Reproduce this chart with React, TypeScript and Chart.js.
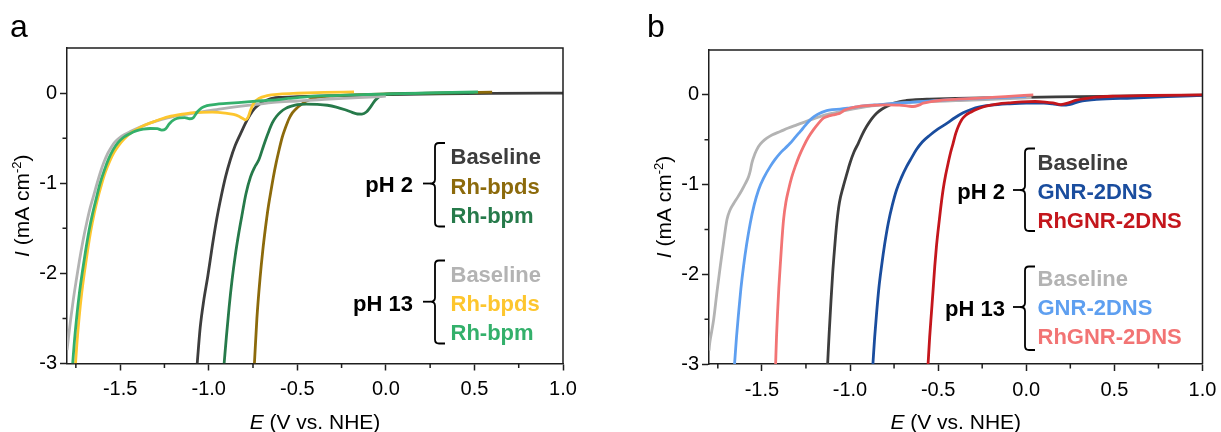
import React, { useEffect, useRef } from "react";
import { Chart, registerables } from "chart.js";

Chart.register(...registerables);

// ---------- axes ----------
const X_MIN = -1.8;
const X_MAX = 1.0;
const Y_MIN = -3;
const Y_MAX = 0.5;
const X_MINOR = [-1.75, -1.25, -0.75, -0.25, 0.25, 0.75];
const Y_MINOR = [-2.5, -1.5, -0.5];

// ---------- panel a data ----------
const aBase2E = [-1.065, -1.048, -1.028, -1.005, -0.98, -0.955, -0.93, -0.905, -0.878, -0.85, -0.82, -0.793, -0.768, -0.743, -0.715, -0.69, -0.66, -0.635, -0.6, -0.5, -0.3, 0, 0.3, 0.6, 1.0];
const aBase2I = [-3.0, -2.6, -2.3, -2.03, -1.7, -1.4, -1.15, -0.93, -0.74, -0.58, -0.45, -0.335, -0.245, -0.175, -0.125, -0.095, -0.068, -0.055, -0.048, -0.04, -0.03, -0.018, -0.008, -0.003, 0.0];

const aBpds2E = [-0.742, -0.728, -0.71, -0.695, -0.68, -0.665, -0.65, -0.635, -0.62, -0.604, -0.585, -0.566, -0.548, -0.528, -0.505, -0.481, -0.455, -0.425, -0.39, -0.35, -0.3, -0.2, 0, 0.3, 0.6];
const aBpds2I = [-3.0, -2.5, -2.05, -1.75, -1.5, -1.28, -1.1, -0.93, -0.78, -0.64, -0.49, -0.38, -0.29, -0.22, -0.17, -0.13, -0.095, -0.068, -0.048, -0.037, -0.03, -0.02, -0.01, 0.0, 0.01];

const aBpm2E = [-0.913, -0.9, -0.885, -0.868, -0.85, -0.83, -0.81, -0.79, -0.764, -0.74, -0.717, -0.698, -0.679, -0.66, -0.641, -0.618, -0.594, -0.565, -0.538, -0.5, -0.45, -0.387, -0.33, -0.28, -0.23, -0.19, -0.16, -0.135, -0.11, -0.085, -0.06, -0.035, -0.01, 0.1, 0.3, 0.5];
const aBpm2I = [-3.0, -2.7, -2.38, -2.07, -1.8, -1.55, -1.33, -1.12, -0.93, -0.82, -0.74, -0.63, -0.52, -0.42, -0.33, -0.26, -0.21, -0.17, -0.148, -0.128, -0.122, -0.125, -0.135, -0.155, -0.185, -0.215, -0.232, -0.233, -0.21, -0.15, -0.08, -0.035, -0.015, -0.005, 0.0, 0.005];

const aBase13E = [-1.8, -1.792, -1.78, -1.765, -1.748, -1.73, -1.71, -1.69, -1.67, -1.65, -1.63, -1.61, -1.59, -1.57, -1.55, -1.53, -1.505, -1.475, -1.44, -1.39, -1.335, -1.27, -1.2, -1.11, -1.024, -0.93, -0.829, -0.73, -0.634, -0.5, -0.381, -0.24, -0.088, 0.0];
const aBase13I = [-2.85, -2.72, -2.52, -2.3, -2.08, -1.86, -1.64, -1.45, -1.28, -1.14, -1.0, -0.87, -0.76, -0.67, -0.6, -0.545, -0.5, -0.46, -0.425, -0.38, -0.335, -0.295, -0.26, -0.23, -0.204, -0.175, -0.148, -0.125, -0.104, -0.088, -0.074, -0.058, -0.044, -0.035];

const aBpds13E = [-1.752, -1.743, -1.731, -1.717, -1.701, -1.684, -1.666, -1.647, -1.627, -1.606, -1.584, -1.56, -1.535, -1.508, -1.478, -1.445, -1.405, -1.36, -1.3, -1.23, -1.15, -1.063, -0.98, -0.907, -0.86, -0.83, -0.81, -0.792, -0.778, -0.764, -0.745, -0.717, -0.67, -0.6, -0.5, -0.35, -0.18];
const aBpds13I = [-3.0, -2.75, -2.48, -2.22, -1.98, -1.75, -1.53, -1.34, -1.17, -1.02, -0.88, -0.76, -0.66, -0.58, -0.51, -0.45, -0.4, -0.355, -0.31, -0.265, -0.235, -0.215, -0.212, -0.222, -0.237, -0.258, -0.28, -0.298, -0.27, -0.19, -0.11, -0.06, -0.028, -0.012, -0.002, 0.008, 0.013];

const aBpm13E = [-1.768, -1.758, -1.745, -1.73, -1.713, -1.695, -1.676, -1.656, -1.635, -1.613, -1.59, -1.565, -1.54, -1.512, -1.48, -1.445, -1.41, -1.37, -1.33, -1.29, -1.265, -1.245, -1.222, -1.195, -1.165, -1.135, -1.108, -1.088, -1.065, -1.04, -1.01, -0.96, -0.9, -0.8, -0.7, -0.62, -0.55, -0.45, -0.3, -0.1, 0.1, 0.3, 0.52];
const aBpm13I = [-3.0, -2.75, -2.48, -2.22, -1.98, -1.75, -1.53, -1.34, -1.17, -1.0, -0.86, -0.73, -0.63, -0.55, -0.49, -0.45, -0.42, -0.4, -0.393, -0.395, -0.41, -0.4, -0.34, -0.295, -0.275, -0.272, -0.285, -0.275, -0.21, -0.165, -0.14, -0.125, -0.115, -0.1, -0.085, -0.075, -0.06, -0.042, -0.028, -0.016, -0.006, 0.004, 0.012];

// ---------- panel b data ----------
const bBase2E = [-1.127, -1.118, -1.108, -1.098, -1.087, -1.075, -1.06, -1.038, -1.018, -1.0, -0.978, -0.953, -0.93, -0.906, -0.878, -0.849, -0.82, -0.792, -0.755, -0.717, -0.68, -0.642, -0.55, -0.4, -0.2, 0.0, 0.3, 0.6, 1.0];
const bBase2I = [-3.0, -2.65, -2.3, -1.98, -1.7, -1.43, -1.2, -1.02, -0.88, -0.76, -0.64, -0.54, -0.44, -0.353, -0.27, -0.204, -0.16, -0.13, -0.095, -0.074, -0.063, -0.056, -0.048, -0.04, -0.033, -0.027, -0.02, -0.012, -0.004];

const bGnr2E = [-0.87, -0.86, -0.849, -0.836, -0.821, -0.803, -0.783, -0.76, -0.736, -0.708, -0.679, -0.65, -0.623, -0.59, -0.547, -0.5, -0.453, -0.405, -0.358, -0.31, -0.264, -0.2, -0.1, 0.0, 0.1, 0.15, 0.2, 0.25, 0.3, 0.4, 0.6, 0.8, 1.0];
const bGnr2I = [-3.0, -2.7, -2.43, -2.15, -1.91, -1.66, -1.43, -1.23, -1.06, -0.92, -0.8, -0.7, -0.61, -0.525, -0.45, -0.38, -0.32, -0.255, -0.2, -0.16, -0.135, -0.115, -0.1, -0.092, -0.092, -0.1, -0.115, -0.105, -0.075, -0.05, -0.035, -0.02, -0.006];

const bRh2E = [-0.557, -0.548, -0.538, -0.528, -0.519, -0.51, -0.5, -0.486, -0.472, -0.458, -0.443, -0.429, -0.415, -0.4, -0.385, -0.367, -0.345, -0.312, -0.28, -0.245, -0.2, -0.157, -0.1, -0.025, 0.05, 0.107, 0.15, 0.196, 0.24, 0.284, 0.34, 0.394, 0.5, 0.7, 1.0];
const bRh2I = [-3.0, -2.7, -2.43, -2.16, -1.91, -1.7, -1.51, -1.27, -1.06, -0.9, -0.76, -0.64, -0.54, -0.43, -0.35, -0.28, -0.23, -0.19, -0.16, -0.135, -0.115, -0.1, -0.09, -0.078, -0.074, -0.08, -0.09, -0.108, -0.09, -0.058, -0.04, -0.026, -0.015, -0.007, 0.0];

const bBase13E = [-1.8, -1.796, -1.785, -1.774, -1.755, -1.736, -1.717, -1.698, -1.68, -1.66, -1.637, -1.613, -1.594, -1.575, -1.565, -1.557, -1.54, -1.519, -1.495, -1.472, -1.44, -1.396, -1.35, -1.302, -1.24, -1.17, -1.11, -1.057, -0.98, -0.906, -0.82, -0.736, -0.64, -0.547, -0.4, -0.264, -0.13, 0.03];
const bBase13I = [-2.85, -2.77, -2.64, -2.51, -2.2, -1.91, -1.64, -1.39, -1.28, -1.21, -1.14, -1.06, -0.99, -0.91, -0.84, -0.76, -0.66, -0.576, -0.52, -0.483, -0.445, -0.409, -0.37, -0.335, -0.29, -0.242, -0.21, -0.186, -0.155, -0.13, -0.11, -0.093, -0.082, -0.074, -0.065, -0.056, -0.045, -0.03];

const bGnr13E = [-1.655, -1.644, -1.632, -1.619, -1.604, -1.586, -1.566, -1.544, -1.519, -1.488, -1.453, -1.425, -1.396, -1.368, -1.34, -1.316, -1.292, -1.268, -1.245, -1.218, -1.189, -1.16, -1.132, -1.1, -1.057, -1.0, -0.925, -0.83, -0.736, -0.6, -0.453, -0.3, -0.15, 0.0];
const bGnr13I = [-3.0, -2.7, -2.43, -2.16, -1.91, -1.66, -1.43, -1.23, -1.06, -0.92, -0.8, -0.72, -0.65, -0.595, -0.54, -0.485, -0.43, -0.375, -0.32, -0.265, -0.223, -0.195, -0.175, -0.165, -0.16, -0.145, -0.123, -0.108, -0.093, -0.075, -0.056, -0.042, -0.03, -0.018];

const bRh13E = [-1.422, -1.417, -1.411, -1.404, -1.396, -1.387, -1.377, -1.364, -1.349, -1.331, -1.311, -1.288, -1.264, -1.237, -1.208, -1.18, -1.151, -1.12, -1.094, -1.075, -1.057, -1.03, -1.0, -0.96, -0.925, -0.86, -0.792, -0.72, -0.67, -0.642, -0.61, -0.585, -0.54, -0.491, -0.4, -0.264, -0.12, 0.04];
const bRh13I = [-3.0, -2.7, -2.43, -2.16, -1.91, -1.64, -1.39, -1.2, -1.06, -0.92, -0.8, -0.68, -0.576, -0.475, -0.39, -0.32, -0.26, -0.235, -0.223, -0.215, -0.204, -0.17, -0.149, -0.133, -0.123, -0.116, -0.112, -0.115, -0.125, -0.13, -0.115, -0.093, -0.075, -0.063, -0.05, -0.037, -0.02, 0.0];

// ---------- colours ----------
const C_DARKGRAY = "#3d3d3d";
const C_LIGHTGRAY = "#b3b3b3";
const C_BROWN = "#8c6a0b";
const C_YELLOW = "#fdc62e";
const C_DARKGREEN = "#267a4a";
const C_GREEN = "#33b06b";
const C_DARKBLUE = "#1a4d9e";
const C_LIGHTBLUE = "#5e9ff0";
const C_RED = "#c4161c";
const C_PINK = "#f27474";
const C_AXIS = "#1e1e1e";

const FONT = '"Liberation Sans", Arial, Helvetica, sans-serif';

type Series = { label: string; E: number[]; I: number[]; color: string; order: number };
type Group = { ph: string; top: number; bottom: number; mid: number; names: string[]; colors: string[]; ys: number[] };
type PanelCfg = {
  letter: string;
  letterX: number;
  canvasLeft: number;
  width: number;
  areaLeft: number;
  areaRight: number;
  areaTop: number;
  areaBottom: number;
  braceX: number;
  textX: number;
  phRight: number;
  groups: Group[];
  series: Series[];
};

const panelA: PanelCfg = {
  letter: "a",
  letterX: 10,
  canvasLeft: 0,
  width: 620,
  areaLeft: 67,
  areaRight: 563,
  areaTop: 48,
  areaBottom: 363.5,
  braceX: 435,
  textX: 450.5,
  phRight: 413,
  groups: [
    { ph: "pH 2", top: 143, bottom: 226.5, mid: 183.5, names: ["Baseline", "Rh-bpds", "Rh-bpm"], colors: [C_DARKGRAY, C_BROWN, C_DARKGREEN], ys: [156.5, 186, 215.5] },
    { ph: "pH 13", top: 260.5, bottom: 343.5, mid: 301.7, names: ["Baseline", "Rh-bpds", "Rh-bpm"], colors: [C_LIGHTGRAY, C_YELLOW, C_GREEN], ys: [274, 303, 332] },
  ],
  series: [
    { label: "pH 13 Rh-bpm", E: aBpm13E, I: aBpm13I, color: C_GREEN, order: 1 },
    { label: "pH 13 Rh-bpds", E: aBpds13E, I: aBpds13I, color: C_YELLOW, order: 2 },
    { label: "pH 13 Baseline", E: aBase13E, I: aBase13I, color: C_LIGHTGRAY, order: 3 },
    { label: "pH 2 Rh-bpm", E: aBpm2E, I: aBpm2I, color: C_DARKGREEN, order: 4 },
    { label: "pH 2 Rh-bpds", E: aBpds2E, I: aBpds2I, color: C_BROWN, order: 5 },
    { label: "pH 2 Baseline", E: aBase2E, I: aBase2I, color: C_DARKGRAY, order: 6 },
  ],
};

const panelB: PanelCfg = {
  letter: "b",
  letterX: 27,
  canvasLeft: 620,
  width: 601,
  areaLeft: 89,
  areaRight: 582.5,
  areaTop: 50,
  areaBottom: 364,
  braceX: 405,
  textX: 417.5,
  phRight: 385,
  groups: [
    { ph: "pH 2", top: 148.5, bottom: 231, mid: 190, names: ["Baseline", "GNR-2DNS", "RhGNR-2DNS"], colors: [C_DARKGRAY, C_DARKBLUE, C_RED], ys: [162.5, 191.3, 220] },
    { ph: "pH 13", top: 266.5, bottom: 350, mid: 307, names: ["Baseline", "GNR-2DNS", "RhGNR-2DNS"], colors: [C_LIGHTGRAY, C_LIGHTBLUE, C_PINK], ys: [278.5, 307, 336] },
  ],
  series: [
    { label: "pH 13 RhGNR-2DNS", E: bRh13E, I: bRh13I, color: C_PINK, order: 1 },
    { label: "pH 13 GNR-2DNS", E: bGnr13E, I: bGnr13I, color: C_LIGHTBLUE, order: 2 },
    { label: "pH 13 Baseline", E: bBase13E, I: bBase13I, color: C_LIGHTGRAY, order: 3 },
    { label: "pH 2 RhGNR-2DNS", E: bRh2E, I: bRh2I, color: C_RED, order: 4 },
    { label: "pH 2 GNR-2DNS", E: bGnr2E, I: bGnr2I, color: C_DARKBLUE, order: 5 },
    { label: "pH 2 Baseline", E: bBase2E, I: bBase2I, color: C_DARKGRAY, order: 6 },
  ],
};

function drawBrace(ctx: CanvasRenderingContext2D, x: number, top: number, bottom: number, mid: number) {
  const r = 4;
  const hook = 10;
  const cusp = 5;
  const dash = 7;
  ctx.beginPath();
  ctx.moveTo(x + hook, top);
  ctx.lineTo(x + r, top);
  ctx.quadraticCurveTo(x, top, x, top + r);
  ctx.lineTo(x, mid - r);
  ctx.quadraticCurveTo(x, mid, x - cusp, mid);
  ctx.quadraticCurveTo(x, mid, x, mid + r);
  ctx.lineTo(x, bottom - r);
  ctx.quadraticCurveTo(x, bottom, x + r, bottom);
  ctx.lineTo(x + hook, bottom);
  ctx.stroke();
  ctx.beginPath();
  ctx.moveTo(x - cusp - dash, mid);
  ctx.lineTo(x - cusp, mid);
  ctx.stroke();
}

const decorPlugin = {
  id: "decor",
  afterDraw(chart: any, _args: any, opts: any) {
    const cfg: PanelCfg = opts.cfg;
    if (!cfg) return;
    const { ctx, chartArea: ca, scales } = chart;
    const xs = scales.x;
    const ys = scales.y;
    ctx.save();
    // frame (top & right)
    ctx.strokeStyle = C_AXIS;
    ctx.lineWidth = 1.5;
    ctx.beginPath();
    ctx.moveTo(ca.left, ca.top);
    ctx.lineTo(ca.right, ca.top);
    ctx.lineTo(ca.right, ca.bottom);
    ctx.stroke();
    // minor ticks
    ctx.beginPath();
    for (const v of X_MINOR) {
      const px = xs.getPixelForValue(v);
      ctx.moveTo(px, ca.bottom);
      ctx.lineTo(px, ca.bottom + 4.5);
    }
    for (const v of Y_MINOR) {
      const py = ys.getPixelForValue(v);
      ctx.moveTo(ca.left - 4.5, py);
      ctx.lineTo(ca.left, py);
    }
    ctx.stroke();

    // panel letter
    ctx.fillStyle = "#000";
    ctx.textAlign = "left";
    ctx.textBaseline = "alphabetic";
    ctx.font = `32px ${FONT}`;
    ctx.fillText(cfg.letter, cfg.letterX, 37);

    // x title
    const tSize = 21;
    const fItal = `italic ${tSize}px ${FONT}`;
    const fReg = `${tSize}px ${FONT}`;
    ctx.font = fItal;
    const wE = ctx.measureText("E").width;
    ctx.font = fReg;
    const rest = " (V vs. NHE)";
    const wR = ctx.measureText(rest).width;
    const cx = (ca.left + ca.right) / 2;
    const sx = cx - (wE + wR) / 2;
    ctx.font = fItal;
    ctx.fillText("E", sx, 429);
    ctx.font = fReg;
    ctx.fillText(rest, sx + wE, 429);

    // y title (rotated)
    const supSize = 13;
    const fSup = `${supSize}px ${FONT}`;
    ctx.font = fItal;
    const wI = ctx.measureText("I").width;
    ctx.font = fReg;
    const p1 = " (mA cm";
    const w1 = ctx.measureText(p1).width;
    const p3 = ")";
    const w3 = ctx.measureText(p3).width;
    ctx.font = fSup;
    const p2 = "-2";
    const w2 = ctx.measureText(p2).width;
    const total = wI + w1 + w2 + w3;
    const cy = (ca.top + ca.bottom) / 2;
    ctx.save();
    ctx.translate(ca.left - 38, cy);
    ctx.rotate(-Math.PI / 2);
    let px = -total / 2;
    ctx.font = fItal;
    ctx.fillText("I", px, 0);
    px += wI;
    ctx.font = fReg;
    ctx.fillText(p1, px, 0);
    px += w1;
    ctx.font = fSup;
    ctx.fillText(p2, px, -8);
    px += w2;
    ctx.font = fReg;
    ctx.fillText(p3, px, 0);
    ctx.restore();

    // legend groups
    const lSize = 22;
    for (const g of cfg.groups) {
      ctx.strokeStyle = "#000";
      ctx.lineWidth = 1.8;
      drawBrace(ctx, cfg.braceX, g.top, g.bottom, g.mid);
      ctx.font = `bold ${lSize}px ${FONT}`;
      ctx.fillStyle = "#000";
      ctx.textAlign = "right";
      ctx.fillText(g.ph, cfg.phRight, g.mid + 1 + lSize * 0.36);
      ctx.textAlign = "left";
      g.names.forEach((n, i) => {
        ctx.fillStyle = g.colors[i];
        ctx.fillText(n, cfg.textX, g.ys[i] + lSize * 0.36);
      });
    }
    ctx.restore();
  },
};

function Panel({ cfg }: { cfg: PanelCfg }) {
  const ref = useRef<HTMLCanvasElement | null>(null);
  useEffect(() => {
    if (!ref.current) return;
    Chart.defaults.font.family = FONT;
    const datasets = cfg.series.map((s) => ({
      label: s.label,
      data: s.E.map((e, i) => ({ x: e, y: s.I[i] })),
      borderColor: s.color,
      backgroundColor: s.color,
      borderWidth: 2.8,
      pointRadius: 0,
      pointHoverRadius: 0,
      fill: false,
      cubicInterpolationMode: "monotone" as const,
      order: s.order,
    }));
    const H = 432;
    const chart = new Chart(ref.current, {
      type: "line",
      data: { datasets },
      plugins: [decorPlugin],
      options: {
        animation: false,
        responsive: false,
        devicePixelRatio: 1,
        events: [],
        layout: {
          padding: { left: 0, top: cfg.areaTop, right: cfg.width - cfg.areaRight, bottom: 0 },
        },
        plugins: {
          legend: { display: false },
          tooltip: { enabled: false },
          title: { display: false },
          decor: { cfg },
        } as any,
        scales: {
          x: {
            type: "linear",
            min: X_MIN,
            max: X_MAX,
            border: { display: true, color: C_AXIS, width: 1.5 },
            grid: { display: true, drawOnChartArea: false, drawTicks: true, tickLength: 7, tickWidth: 1.5, tickColor: C_AXIS },
            ticks: {
              stepSize: 0.5,
              includeBounds: false,
              padding: 7,
              color: "#000",
              maxRotation: 0,
              autoSkip: false,
              font: { size: 20, family: FONT },
              callback: (v: any) => Number(v).toFixed(1),
            },
            afterFit: (scale: any) => {
              scale.height = H - cfg.areaBottom;
              scale.paddingLeft = 0;
              scale.paddingRight = 0;
              scale.paddingTop = 0;
              scale.paddingBottom = 0;
            },
          },
          y: {
            type: "linear",
            min: Y_MIN,
            max: Y_MAX,
            border: { display: true, color: C_AXIS, width: 1.5 },
            grid: { display: true, drawOnChartArea: false, drawTicks: true, tickLength: 7, tickWidth: 1.5, tickColor: C_AXIS },
            ticks: {
              stepSize: 1,
              includeBounds: false,
              padding: 3,
              color: "#000",
              autoSkip: false,
              font: { size: 20, family: FONT },
              callback: (v: any) => String(Math.round(Number(v))),
            },
            afterFit: (scale: any) => {
              scale.width = cfg.areaLeft;
              scale.paddingLeft = 0;
              scale.paddingRight = 0;
              scale.paddingTop = 0;
              scale.paddingBottom = 0;
            },
          },
        },
      } as any,
    });
    return () => chart.destroy();
  }, [cfg]);
  return (
    <canvas
      ref={ref}
      width={cfg.width}
      height={432}
      style={{ position: "absolute", left: cfg.canvasLeft, top: 0, width: cfg.width, height: 432 }}
    />
  );
}

export default function App() {
  return (
    <div style={{ position: "fixed", left: 0, top: 0, width: 1221, height: 432, background: "#fff", overflow: "hidden" }}>
      <Panel cfg={panelA} />
      <Panel cfg={panelB} />
    </div>
  );
}
